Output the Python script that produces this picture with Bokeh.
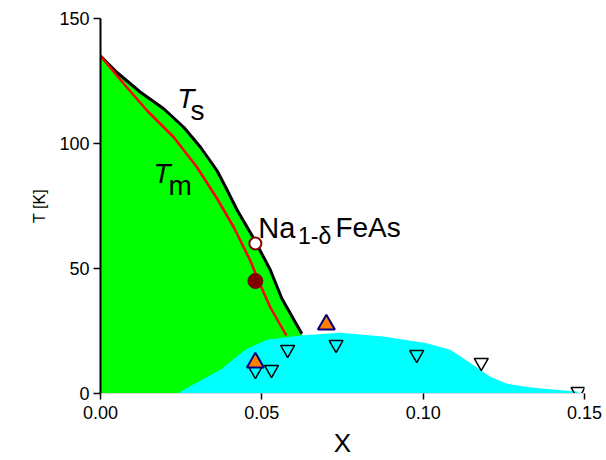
from bokeh.plotting import figure
from bokeh.models import Range1d, FixedTicker, Label
from bokeh.embed import file_html
from bokeh.resources import INLINE

# --- data ---
ts_x = [0.0, 0.0052, 0.0124, 0.0196, 0.0258, 0.031, 0.0361, 0.0392, 0.0423, 0.0475, 0.0526, 0.0562, 0.0624]
ts_t = [135.0, 128.3, 120.5, 113.9, 106.5, 98.5, 89.2, 81.5, 73.5, 62.0, 49.5, 38.0, 23.9]

tm_x = [0.0, 0.0072, 0.0144, 0.0227, 0.0299, 0.0361, 0.0413, 0.0464, 0.0495, 0.0526, 0.0576]
tm_t = [135.0, 123.9, 113.2, 102.5, 90.5, 78.0, 66.5, 53.2, 43.5, 34.5, 23.2]

sc_x = [0.0238, 0.031, 0.0377, 0.0413, 0.0454, 0.0516, 0.0567, 0.0619, 0.0743, 0.0877, 0.1011,
        0.1084, 0.1135, 0.1207, 0.1259, 0.1341, 0.1476, 0.1485]
sc_t = [0.0, 5.2, 9.9, 13.9, 17.9, 21.5, 22.3, 23.2, 24.3, 22.8, 20.1, 17.5, 13.2, 6.8, 3.9, 2.3, 0.8, 0.0]

tc_x = [0.048, 0.053, 0.058, 0.073, 0.098, 0.118, 0.148]
tc_t = [9.2, 9.6, 17.6, 19.6, 15.6, 12.4, 0.8]

up_x = [0.048, 0.070]
up_t = [12.4, 27.6]

open_x = [0.048]
open_t = [60.0]
fill_x = [0.048]
fill_t = [45.0]

x_ticks = [0.0, 0.05, 0.10, 0.15]
x_tick_labels = ["0.00", "0.05", "0.10", "0.15"]
y_ticks = [0, 50, 100, 150]

FONT = "Liberation Sans"

p = figure(width=606, height=460, output_backend="svg", toolbar_location=None,
           x_range=Range1d(0, 0.15), y_range=Range1d(0, 150),
           min_border_left=100, min_border_right=22, min_border_top=18, min_border_bottom=67)
p.outline_line_color = None
p.xgrid.visible = False
p.ygrid.visible = False
p.background_fill_color = "white"

# green region: Ts curve closed down to the baseline
gx = ts_x + [0.066, 0.066, 0.0]
gt = ts_t + [15.0, 0.0, 0.0]
p.patch(gx, gt, fill_color="#00ff00", line_color=None)
p.line(ts_x, ts_t, line_color="black", line_width=3, line_join="round")
p.line(tm_x, tm_t, line_color="#ff0000", line_width=2.5, line_join="round")

# cyan region
p.patch(sc_x, sc_t, fill_color="#00ffff", line_color=None)

p.scatter(tc_x, tc_t, marker="inverted_triangle", size=14, fill_color=None,
          line_color="black", line_width=1.5)
p.scatter(up_x, up_t, marker="triangle", size=17, fill_color="#ff8000",
          line_color="#000080", line_width=2)
p.scatter(open_x, open_t, marker="circle", size=12, fill_color="white",
          line_color="#8b0000", line_width=2)
p.scatter(fill_x, fill_t, marker="circle", size=15, fill_color="#800000",
          line_color="#800000", line_width=1)

def lab(x, y, text, size, style="normal", align="left"):
    p.add_layout(Label(x=x, y=y, text=text, text_font=FONT, text_font_size=size,
                       text_font_style=style, text_baseline="alphabetic",
                       text_align=align, text_color="black"))

lab(0.0238, 118.0, "T", "28px", "italic")
lab(0.0279, 113.2, "s", "28px")
lab(0.0164, 88.0, "T", "28px", "italic")
lab(0.0211, 83.2, "m", "28px")
lab(0.0489, 66.4, "Na", "29px")
lab(0.0612, 63.2, "1-δ", "23px")
lab(0.0728, 66.4, "FeAs", "28px")

# axes
xa = p.xaxis[0]
xa.ticker = FixedTicker(ticks=x_ticks)
xa.major_label_overrides = {t: l for t, l in zip(x_ticks, x_tick_labels)}
xa.axis_line_color = "#d8d8d8"
xa.axis_line_width = 1
xa.major_tick_line_color = "black"
xa.major_tick_line_width = 1.5
xa.major_tick_out = 6
xa.major_tick_in = 0
xa.minor_tick_line_color = None
xa.major_label_standoff = 6
xa.major_label_text_font = FONT
xa.major_label_text_font_size = "18px"
xa.major_label_text_color = "black"
xa.axis_label = "X"
xa.axis_label_text_font = FONT
xa.axis_label_text_font_size = "26px"
xa.axis_label_text_font_style = "normal"
xa.axis_label_text_color = "black"
xa.axis_label_standoff = 6

ya = p.yaxis[0]
ya.ticker = FixedTicker(ticks=y_ticks)
ya.axis_line_color = "black"
ya.axis_line_width = 2
ya.major_tick_line_color = "black"
ya.major_tick_line_width = 1.5
ya.major_tick_out = 7
ya.major_tick_in = 0
ya.minor_tick_line_color = None
ya.major_label_standoff = 4
ya.major_label_text_font = FONT
ya.major_label_text_font_size = "18px"
ya.major_label_text_color = "black"
ya.axis_label = "T [K]"
ya.axis_label_text_font = FONT
ya.axis_label_text_font_size = "16px"
ya.axis_label_text_font_style = "normal"
ya.axis_label_text_color = "black"
ya.axis_label_standoff = 8

open("out.html", "w").write(file_html(p, INLINE))
